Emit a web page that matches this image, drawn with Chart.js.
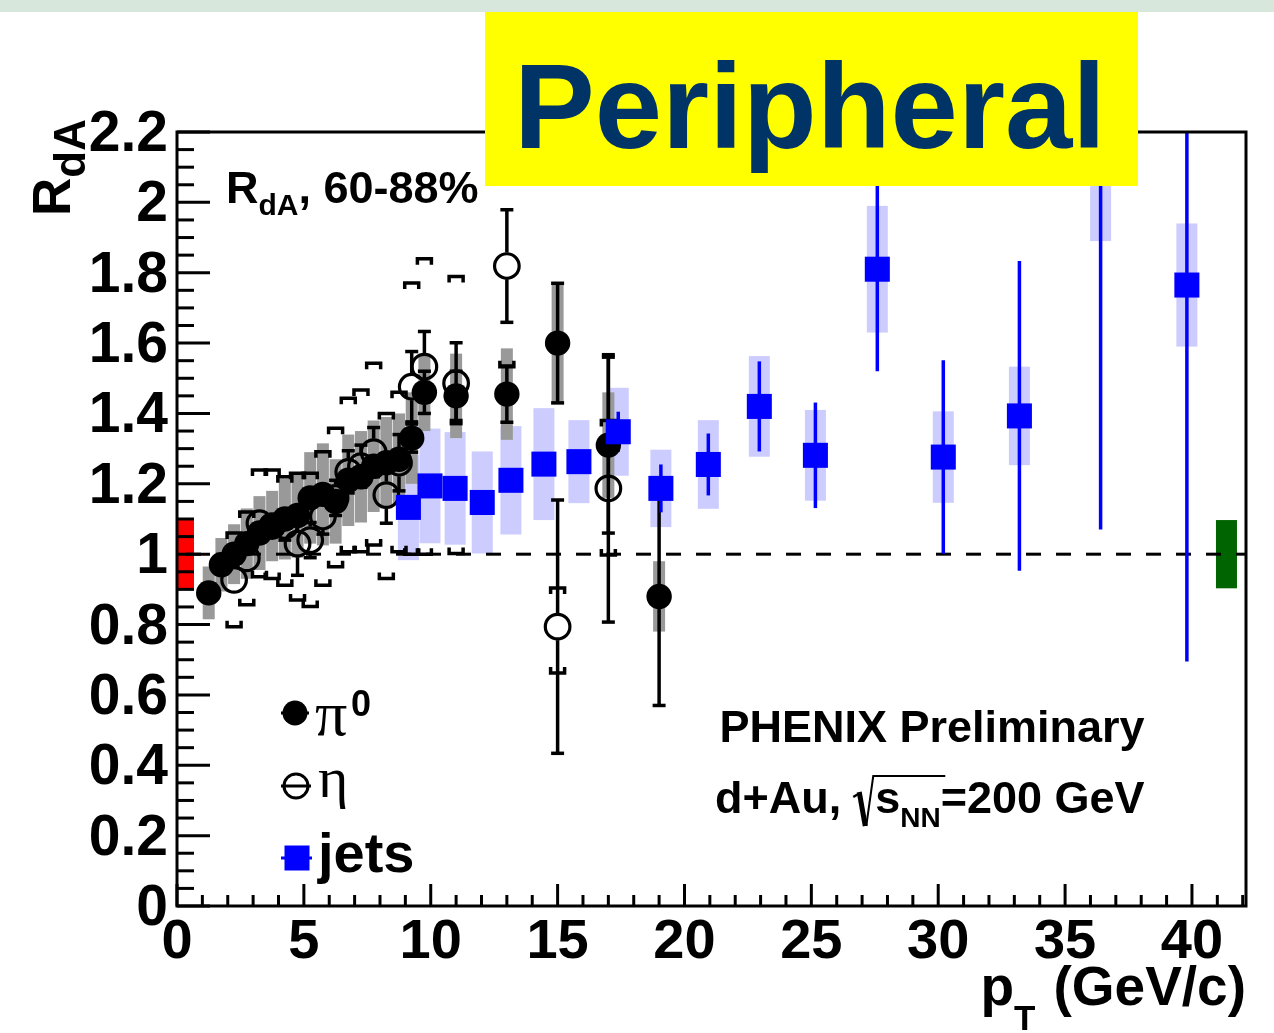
<!DOCTYPE html>
<html>
<head>
<meta charset="utf-8">
<title>RdA peripheral</title>
<script src="https://cdn.jsdelivr.net/npm/chart.js@4.4.1/dist/chart.umd.min.js"></script>
<style>
  html, body { margin: 0; padding: 0; background: #fff; }
  #wrap { width: 1274px; height: 1033px; }
</style>
</head>
<body>
<div id="wrap"><canvas id="c" width="1274" height="1033"></canvas></div>
<script>
// ─── Data ────────────────────────────────────────────────────────────────────
// pi0, filled circles: stat error (symmetric), sys half-height (gray box)
const pi0Pt   = [1.25, 1.75, 2.25, 2.75, 3.25, 3.75, 4.25, 4.75, 5.25, 5.75, 6.25, 6.75, 7.25, 7.75, 8.25, 8.75, 9.25, 9.75, 11, 13, 15, 17, 19];
const pi0R    = [0.89, 0.97, 1.00, 1.03, 1.06, 1.08, 1.10, 1.11, 1.16, 1.17, 1.15, 1.21, 1.22, 1.25, 1.26, 1.27, 1.33, 1.46, 1.45, 1.455, 1.60, 1.31, 0.88];
const pi0Stat = [0.01, 0.01, 0.01, 0.01, 0.01, 0.01, 0.01, 0.015, 0.015, 0.02, 0.02, 0.02, 0.02, 0.025, 0.025, 0.03, 0.04, 0.06, 0.07, 0.08, 0.17, 0.25, 0.31];
const pi0Sys  = [0.075, 0.076, 0.085, 0.1, 0.105, 0.1, 0.115, 0.12, 0.13, 0.145, 0.12, 0.13, 0.13, 0.13, 0.13, 0.13, 0.13, 0.11, 0.12, 0.13, 0.17, 0.15, 0.1];

// eta, open circles: stat error, sys down / up (brackets)
const etaPt    = [2.25, 2.75, 3.25, 3.75, 4.25, 4.75, 5.25, 5.75, 6.25, 6.75, 7.25, 7.75, 8.25, 8.75, 9.25, 9.75, 11, 13, 15, 17];
const etaR     = [0.927, 0.988, 1.088, 1.08, 1.08, 1.03, 1.04, 1.107, 1.16, 1.234, 1.25, 1.29, 1.168, 1.26, 1.476, 1.533, 1.486, 1.819, 0.794, 1.187];
const etaStat  = [0.03, 0.03, 0.03, 0.03, 0.04, 0.09, 0.05, 0.05, 0.05, 0.06, 0.06, 0.07, 0.08, 0.08, 0.1, 0.1, 0.115, 0.16, 0.36, 0.38];
const etaSysDn = [0.133, 0.132, 0.152, 0.149, 0.168, 0.16, 0.189, 0.195, 0.196, 0.227, 0.243, 0.264, 0.237, 0.253, 0.476, 0.533, 0.484, 0.286, 0.132, 0.189];
const etaSysUp = [0.133, 0.132, 0.151, 0.159, 0.14, 0.2, 0.19, 0.184, 0.198, 0.209, 0.217, 0.253, 0.232, 0.2, 0.295, 0.307, 0.303, 0.28, 0.11, 0.193];

// jets, blue squares: stat error (blue line), sys half-height (lavender box)
const jetPt   = [9.12, 9.97, 10.96, 12.03, 13.16, 14.46, 15.84, 17.39, 19.07, 20.94, 22.95, 25.16, 27.6, 30.2, 33.2, 36.4, 39.8];
const jetR    = [1.133, 1.194, 1.187, 1.147, 1.21, 1.256, 1.263, 1.348, 1.187, 1.255, 1.42, 1.281, 1.81, 1.276, 1.393, 2.12, 1.765];
const jetStat = [0.02, 0.03, 0.03, 0.03, 0.03, 0.03, 0.015, 0.057, 0.068, 0.088, 0.128, 0.15, 0.29, 0.275, 0.44, 1.05, 1.07];
const jetSys  = [0.15, 0.163, 0.16, 0.145, 0.154, 0.159, 0.118, 0.125, 0.11, 0.126, 0.143, 0.129, 0.18, 0.13, 0.14, 0.23, 0.175];

// normalisation uncertainty boxes around R=1 (hadrons left, jets right)
const normPt  = [0.355, 41.36];
const normErr = [0.097, 0.097];

// axes
const xMin = 0, xMax = 42.13, yMin = 0, yMax = 2.2;
const xTicks = [0, 5, 10, 15, 20, 25, 30, 35, 40];
const xTickLabels = ['0', '5', '10', '15', '20', '25', '30', '35', '40'];
const yTicks = [0, 0.2, 0.4, 0.6, 0.8, 1, 1.2, 1.4, 1.6, 1.8, 2, 2.2];
const yTickLabels = ['0', '0.2', '0.4', '0.6', '0.8', '1', '1.2', '1.4', '1.6', '1.8', '2', '2.2'];

// ─── Style ───────────────────────────────────────────────────────────────────
const SANS  = '"Liberation Sans", Arial, Helvetica, sans-serif';
const SERIF = '"Liberation Serif", "DejaVu Serif", serif';
const BLUE  = '#0000ff';
const LAV   = '#ccccff';
const GRAY  = '#999999';
const NAVY  = '#003366';

function pts(xs, ys) { return xs.map((x, i) => ({ x: x, y: ys[i] })); }

function txt(ctx, s, x, y, size, o) {
    o = o || {};
    ctx.font = (o.weight || 'bold') + ' ' + size + 'px ' + (o.family || SANS);
    ctx.textAlign = o.align || 'left';
    ctx.textBaseline = 'alphabetic';
    ctx.fillStyle = o.color || '#000';
    ctx.fillText(s, x, y);
    return ctx.measureText(s).width;
}

function vline(ctx, x, y0, y1) { ctx.beginPath(); ctx.moveTo(x, y0); ctx.lineTo(x, y1); ctx.stroke(); }
function hline(ctx, x0, x1, y) { ctx.beginPath(); ctx.moveTo(x0, y); ctx.lineTo(x1, y); ctx.stroke(); }

// ─── Error boxes / bars, drawn under the markers ─────────────────────────────
const errorPlugin = {
    id: 'errors',
    beforeDatasetsDraw(chart) {
        const { ctx, chartArea: a, scales: { x, y } } = chart;
        ctx.save();
        ctx.beginPath();
        ctx.rect(a.left, a.top, a.right - a.left, a.bottom - a.top);
        ctx.clip();

        // jets sys (lavender)
        ctx.fillStyle = LAV;
        jetPt.forEach((p, i) => {
            const px = x.getPixelForValue(p);
            const t = y.getPixelForValue(jetR[i] + jetSys[i]);
            const b = y.getPixelForValue(jetR[i] - jetSys[i]);
            ctx.fillRect(px - 10.5, t, 21, b - t);
        });
        // pi0 sys (gray)
        ctx.fillStyle = GRAY;
        pi0Pt.forEach((p, i) => {
            const px = x.getPixelForValue(p);
            const t = y.getPixelForValue(pi0R[i] + pi0Sys[i]);
            const b = y.getPixelForValue(pi0R[i] - pi0Sys[i]);
            ctx.fillRect(px - 6, t, 12, b - t);
        });
        // normalisation boxes
        ['#ff0000', '#006400'].forEach((col, i) => {
            const px = x.getPixelForValue(normPt[i]);
            const t = y.getPixelForValue(1 + normErr[i]);
            const b = y.getPixelForValue(1 - normErr[i]);
            const w = i === 0 ? 16 : 21;
            ctx.fillStyle = col;
            ctx.fillRect(px - w / 2, t, w, b - t);
        });

        // dashed line at 1
        ctx.strokeStyle = '#000';
        ctx.lineWidth = 3;
        ctx.setLineDash([15, 15]);
        ctx.lineDashOffset = 21;
        hline(ctx, a.left, a.right, y.getPixelForValue(1));
        ctx.setLineDash([]);

        // eta sys brackets
        ctx.lineWidth = 3.5;
        etaPt.forEach((p, i) => {
            const px = x.getPixelForValue(p);
            const t = y.getPixelForValue(etaR[i] + etaSysUp[i]);
            const b = y.getPixelForValue(etaR[i] - etaSysDn[i]);
            ctx.beginPath();
            ctx.moveTo(px - 7, t + 6); ctx.lineTo(px - 7, t); ctx.lineTo(px + 7, t); ctx.lineTo(px + 7, t + 6);
            ctx.moveTo(px - 7, b - 6); ctx.lineTo(px - 7, b); ctx.lineTo(px + 7, b); ctx.lineTo(px + 7, b - 6);
            ctx.stroke();
        });

        // stat bars with caps, skipping the marker
        function bars(xs, ys, es, r) {
            xs.forEach((p, i) => {
                const px = x.getPixelForValue(p);
                const c = y.getPixelForValue(ys[i]);
                const t = y.getPixelForValue(ys[i] + es[i]);
                const b = y.getPixelForValue(ys[i] - es[i]);
                if (c - t > r) {
                    vline(ctx, px, c - r, t);
                    hline(ctx, px - 6.5, px + 6.5, t);
                }
                if (b - c > r) {
                    vline(ctx, px, c + r, b);
                    hline(ctx, px - 6.5, px + 6.5, b);
                }
            });
        }
        ctx.strokeStyle = '#000';
        ctx.lineWidth = 3.5;
        bars(pi0Pt, pi0R, pi0Stat, 12);
        bars(etaPt, etaR, etaStat, 13.5);

        // jets stat (blue, no caps)
        ctx.strokeStyle = BLUE;
        ctx.lineWidth = 3.5;
        jetPt.forEach((p, i) => {
            const px = x.getPixelForValue(p);
            vline(ctx, px, y.getPixelForValue(jetR[i] + jetStat[i]), y.getPixelForValue(jetR[i] - jetStat[i]));
        });
        ctx.restore();
    }
};

// ─── Frame, ticks, labels, legend, title box ─────────────────────────────────
const decorPlugin = {
    id: 'decor',
    beforeDraw(chart) {
        const ctx = chart.ctx;
        ctx.save();
        ctx.fillStyle = '#ffffff';
        ctx.fillRect(0, 0, chart.width, chart.height);
        ctx.fillStyle = '#d8e7db';
        ctx.fillRect(0, 0, chart.width, 12);
        ctx.restore();
    },
    afterDraw(chart) {
        const { ctx, chartArea: a, scales: { x, y } } = chart;
        ctx.save();
        ctx.strokeStyle = '#000';
        ctx.lineWidth = 3;
        ctx.strokeRect(a.left, a.top, a.right - a.left, a.bottom - a.top);

        // x ticks (inside, pointing up)
        for (let v = 0; v <= 42; v++) {
            const px = x.getPixelForValue(v);
            vline(ctx, px, a.bottom, a.bottom - (v % 5 === 0 ? 22 : 11));
        }
        // y ticks (inside, pointing right)
        for (let k = 0; k <= 44; k++) {
            const py = y.getPixelForValue(k * 0.05);
            hline(ctx, a.left, a.left + (k % 4 === 0 ? 33 : 17), py);
        }

        // tick labels
        xTicks.forEach((v, i) => txt(ctx, xTickLabels[i], x.getPixelForValue(v), 958, 56, { align: 'center' }));
        yTicks.forEach((v, i) => txt(ctx, yTickLabels[i], 168, y.getPixelForValue(v) + 19, 57, { align: 'right' }));

        // x title: p_T (GeV/c)
        ctx.font = 'bold 55px ' + SANS;
        const wg = ctx.measureText('(GeV/c)').width;
        const gx = a.right - wg;
        txt(ctx, '(GeV/c)', gx, 1005, 55);
        ctx.font = 'bold 35px ' + SANS;
        const wt = ctx.measureText('T').width;
        txt(ctx, 'T', gx - 18 - wt, 1030, 35);
        ctx.font = 'bold 55px ' + SANS;
        const wp = ctx.measureText('p').width;
        txt(ctx, 'p', gx - 18 - wt - wp, 1005, 55);

        // y title: R_dA (rotated)
        ctx.save();
        ctx.translate(70, 216);
        ctx.rotate(-Math.PI / 2);
        const wr = txt(ctx, 'R', 0, 0, 53);
        txt(ctx, 'dA', wr, 15, 44);
        ctx.restore();

        // in-frame label
        let cx = 226;
        cx += txt(ctx, 'R', cx, 203, 45);
        cx += txt(ctx, 'dA', cx, 215, 30);
        txt(ctx, ', 60-88%', cx, 203, 45);

        // PHENIX labels
        txt(ctx, 'PHENIX Preliminary', 932, 742, 45, { align: 'center' });
        cx = 715;
        cx += txt(ctx, 'd+Au,', cx, 813, 45);
        ctx.lineWidth = 2.5;
        ctx.beginPath();
        ctx.moveTo(cx + 12, 797); ctx.lineTo(cx + 17, 794);
        ctx.stroke();
        ctx.lineWidth = 5;
        ctx.beginPath();
        ctx.moveTo(cx + 18, 792); ctx.lineTo(cx + 24, 826);
        ctx.stroke();
        ctx.lineWidth = 2;
        ctx.beginPath();
        ctx.moveTo(cx + 25, 826); ctx.lineTo(cx + 32, 776); ctx.lineTo(cx + 104, 776);
        ctx.stroke();
        cx += 34;
        cx += txt(ctx, 's', cx, 813, 45);
        cx += txt(ctx, 'NN', cx, 827, 28);
        txt(ctx, '=200 GeV', cx, 813, 45);

        // legend
        ctx.lineWidth = 3;
        ctx.strokeStyle = '#000';
        hline(ctx, 281, 309, 713);
        ctx.fillStyle = '#000';
        ctx.beginPath(); ctx.arc(295, 713, 12.5, 0, Math.PI * 2); ctx.fill();
        txt(ctx, 'π', 315, 735, 64, { weight: 'normal', family: SERIF });
        txt(ctx, '0', 351, 716, 36);

        hline(ctx, 281, 311, 786);
        ctx.beginPath(); ctx.arc(296, 786, 12, 0, Math.PI * 2); ctx.stroke();
        txt(ctx, 'η', 318, 797, 58, { weight: 'normal', family: SERIF });

        ctx.strokeStyle = BLUE;
        hline(ctx, 281, 312, 858);
        ctx.fillStyle = BLUE;
        ctx.fillRect(284.5, 845.5, 25, 25);
        txt(ctx, 'jets', 318, 872, 56);

        // title box
        ctx.fillStyle = '#ffff00';
        ctx.fillRect(485, 12, 653, 174);
        txt(ctx, 'Peripheral', 810, 148, 121, { align: 'center', color: NAVY });
        ctx.restore();
    }
};

// ─── Chart ───────────────────────────────────────────────────────────────────
new Chart(document.getElementById('c'), {
    type: 'scatter',
    data: {
        datasets: [
            {
                label: 'jets',
                data: pts(jetPt, jetR),
                pointStyle: 'rect',
                pointRadius: 17.7,
                backgroundColor: BLUE,
                borderWidth: 0,
            },
            {
                label: 'eta',
                data: pts(etaPt, etaR),
                pointStyle: 'circle',
                pointRadius: 12.3,
                backgroundColor: 'rgba(0,0,0,0)',
                borderColor: '#000',
                borderWidth: 3.2,
            },
            {
                label: 'pi0',
                data: pts(pi0Pt, pi0R),
                pointStyle: 'circle',
                pointRadius: 12.7,
                backgroundColor: '#000',
                borderWidth: 0,
            },
        ],
    },
    options: {
        responsive: false,
        animation: false,
        devicePixelRatio: 1,
        events: [],
        layout: { padding: { left: 177, right: 28, top: 132, bottom: 127 } },
        scales: {
            x: { type: 'linear', min: xMin, max: xMax, display: false },
            y: { type: 'linear', min: yMin, max: yMax, display: false },
        },
        plugins: { legend: { display: false }, tooltip: { enabled: false } },
    },
    plugins: [decorPlugin, errorPlugin],
});
</script>
</body>
</html>
